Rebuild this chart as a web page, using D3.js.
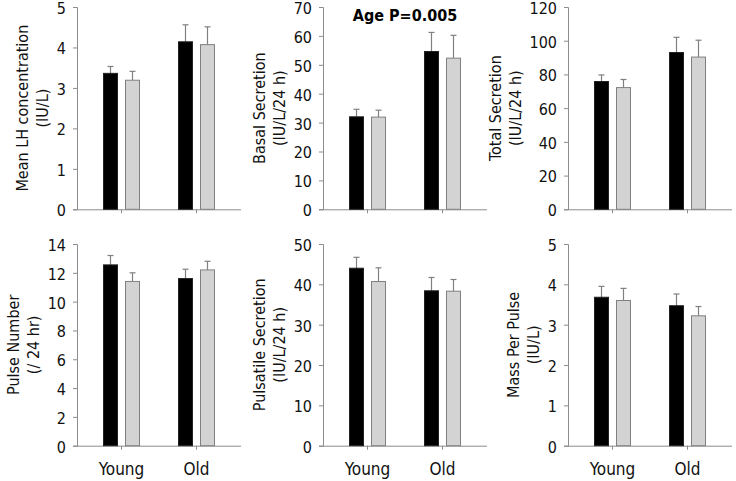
<!DOCTYPE html>
<html>
<head>
<meta charset="utf-8">
<script src="https://cdn.jsdelivr.net/npm/d3@7"></script>
<style>
  html, body { margin: 0; padding: 0; background: #fff; }
  svg { display: block; font-family: "DejaVu Sans Condensed", "DejaVu Sans", sans-serif; }
</style>
</head>
<body>
<svg id="chart" width="736" height="481"></svg>
<script>
// ---- Data ----
const categories = ["Young", "Old"];
const series = ["Group 1", "Group 2"];   // black, grey

// values: [Young, Old] each [black, grey]
const meanLH = [[3.36, 3.19], [4.14, 4.07]];
const meanLHErr = [[0.17, 0.22], [0.42, 0.44]];

const basalSecretion = [[32.0, 31.9], [54.6, 52.3]];
const basalSecretionErr = [[2.6, 2.4], [6.6, 7.9]];

const totalSecretion = [[75.8, 72.2], [93.0, 90.3]];
const totalSecretionErr = [[3.9, 4.8], [9.0, 10.0]];

const pulseNumber = [[12.55, 11.4], [11.6, 12.2]];
const pulseNumberErr = [[0.65, 0.6], [0.65, 0.6]];

const pulsatileSecretion = [[44.0, 40.7], [38.4, 38.3]];
const pulsatileSecretionErr = [[2.7, 3.4], [3.3, 2.9]];

const massPerPulse = [[3.68, 3.60], [3.47, 3.22]];
const massPerPulseErr = [[0.27, 0.30], [0.29, 0.23]];

const yMax = [5, 70, 120, 14, 50, 5];
const yStep = [1, 10, 20, 2, 10, 1];
const yTitles = [
  ["Mean LH concentration", "(IU/L)"],
  ["Basal Secretion", "(IU/L/24 h)"],
  ["Total Secretion", "(IU/L/24 h)"],
  ["Pulse Number", "(/ 24 hr)"],
  ["Pulsatile Secretion", "(IU/L/24 h)"],
  ["Mass Per Pulse", "(IU/L)"]
];
const panelTitle = "Age P=0.005";

const panelValues = [meanLH, basalSecretion, totalSecretion, pulseNumber, pulsatileSecretion, massPerPulse];
const panelErrors = [meanLHErr, basalSecretionErr, totalSecretionErr, pulseNumberErr, pulsatileSecretionErr, massPerPulseErr];

// ---- Layout ----
const colX = [77, 323, 568];
const rowY = [[209.3, 7], [445.7, 244]];
const plotW = 164;
const fills = ["#000000", "#d3d3d3"];
const strokes = ["#222222", "#808080"];
const axisColor = "#8c8c8c";
const textColor = "#111";

const svg = d3.select("#chart");

panelValues.forEach((vals, p) => {
  const col = p % 3, row = Math.floor(p / 3);
  const x0 = colX[col];
  const [yBottom, yTop] = rowY[row];
  const g = svg.append("g");

  const y = d3.scaleLinear().domain([0, yMax[p]]).range([yBottom, yTop]);
  const x = d3.scaleBand().domain(categories).range([x0 + 7, x0 + 157]).padding(0);
  const bw = x.bandwidth();
  const xs = d3.scaleBand().domain(series).range([bw / 2 - 18, bw / 2 + 18])
    .paddingInner(8 / 22).paddingOuter(0);

  // y axis
  const ticks = d3.range(0, yMax[p] + yStep[p] / 2, yStep[p]);
  const yAxis = g.append("g")
    .attr("transform", `translate(${x0},0)`)
    .call(d3.axisLeft(y).tickValues(ticks).tickSize(4).tickPadding(7).tickFormat(d3.format("d")));
  yAxis.select(".domain").attr("stroke", axisColor);
  yAxis.selectAll(".tick line").attr("stroke", axisColor);
  yAxis.selectAll(".tick text").attr("fill", textColor).attr("dy", "0.4em")
    .style("font-size", "16px").style("font-family", "DejaVu Sans Condensed, DejaVu Sans, sans-serif");

  // x axis
  const xAxis = g.append("g")
    .attr("transform", `translate(0,${yBottom})`)
    .call(d3.axisBottom(x).tickSize(4).tickPadding(13).tickSizeOuter(0)
      .tickFormat(row === 1 ? (d => d) : () => ""));
  xAxis.select(".domain").attr("d", `M${x0},0.5H${x0 + plotW}`).attr("stroke", axisColor);
  xAxis.selectAll(".tick line").attr("stroke", axisColor);
  xAxis.selectAll(".tick text").attr("fill", textColor)
    .style("font-size", "17px").style("font-family", "DejaVu Sans Condensed, DejaVu Sans, sans-serif");

  // bars
  const errs = panelErrors[p];
  categories.forEach((c, ci) => {
    series.forEach((s, si) => {
      const v = vals[ci][si];
      const e = errs[ci][si];
      const bx = x(c) + xs(s);
      const cx = bx + xs.bandwidth() / 2;
      // error bar
      g.append("line")
        .attr("x1", cx).attr("x2", cx)
        .attr("y1", y(v)).attr("y2", y(v + e))
        .attr("stroke", "#808080").attr("stroke-width", 1.2);
      g.append("line")
        .attr("x1", cx - 3).attr("x2", cx + 3)
        .attr("y1", y(v + e)).attr("y2", y(v + e))
        .attr("stroke", "#808080").attr("stroke-width", 1.2);
      g.append("rect")
        .attr("x", bx).attr("y", y(v))
        .attr("width", xs.bandwidth()).attr("height", y(0) - y(v))
        .attr("fill", fills[si]).attr("stroke", strokes[si]).attr("stroke-width", 1);
    });
  });

  // y title
  let maxW = 0;
  yAxis.selectAll(".tick text").each(function () { maxW = Math.max(maxW, this.getBBox().width); });
  const line2X = x0 - 4 - 7 - maxW - 8 - 6;
  const yc = (yBottom + yTop) / 2;
  const t = yTitles[p];
  t.forEach((txt, li) => {
    const lx = line2X - (t.length - 1 - li) * 20;
    g.append("text")
      .attr("transform", `translate(${lx},${yc}) rotate(-90)`)
      .attr("text-anchor", "middle")
      .attr("dy", "0.35em")
      .attr("fill", textColor)
      .style("font-size", "16px")
      .text(txt);
  });

  if (p === 1) {
    g.append("text")
      .attr("x", x0 + plotW / 2).attr("y", 21)
      .attr("text-anchor", "middle")
      .attr("fill", "#000")
      .style("font-size", "16px").style("font-weight", "bold")
      .text(panelTitle);
  }
});
</script>
</body>
</html>
